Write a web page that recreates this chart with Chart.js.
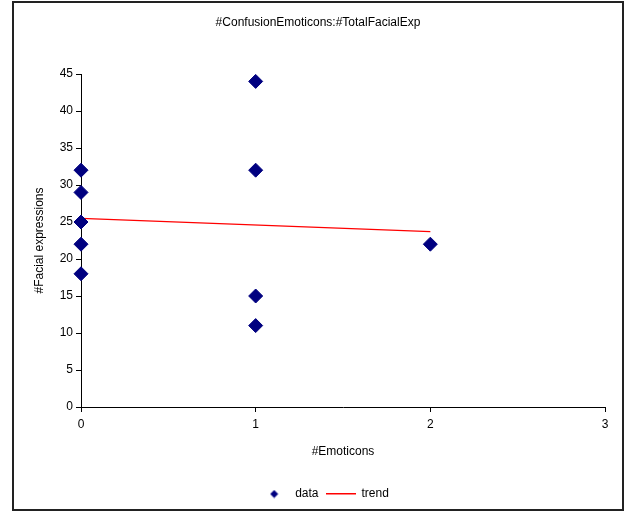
<!DOCTYPE html>
<html>
<head>
<meta charset="utf-8">
<script src="https://cdn.jsdelivr.net/npm/chart.js@4"></script>
<style>
  body { margin: 0; background: #fff; }
  #wrap { position: relative; width: 626px; height: 512px; }
  #frame { position: absolute; left: 12px; top: 1px; width: 612px; height: 510px;
           border: 2px solid #222; box-sizing: border-box; pointer-events: none; }
</style>
</head>
<body>
<div id="wrap">
  <canvas id="chart" width="626" height="512"></canvas>
  <div id="frame"></div>
</div>
<script>
// values
let emoticons = [0, 0, 0, 0, 0, 1, 1, 1, 1, 2];
let facialExp = [32, 29, 25, 22, 18, 44, 32, 15, 11, 22];
let trendX = [0, 2];
let trendY = [25.5, 23.7];

let dataPoints = emoticons.map(function(x, i) { return {x: x, y: facialExp[i]}; });
let trendPoints = trendX.map(function(x, i) { return {x: x, y: trendY[i]}; });

// little pictures for the legend markers
let diamondIcon = document.createElement('canvas');
diamondIcon.width = 9; diamondIcon.height = 9;
let dctx = diamondIcon.getContext('2d');
dctx.fillStyle = '#000080';
dctx.beginPath();
dctx.moveTo(4.5, 0.5); dctx.lineTo(8.5, 4.5); dctx.lineTo(4.5, 8.5); dctx.lineTo(0.5, 4.5);
dctx.closePath();
dctx.fill();

let lineIcon = document.createElement('canvas');
lineIcon.width = 30; lineIcon.height = 2;
let lctx = lineIcon.getContext('2d');
lctx.fillStyle = '#ff0000';
lctx.fillRect(0, 0, 30, 1.5);

// nudge the legend a bit right, like the original
let legendShift = {
    id: 'legendShift',
    afterLayout: function(chart) {
        chart.legend.left += 6;
        chart.legend.right += 6;
    }
};

Chart.defaults.font.family = '"Liberation Sans", Arial, sans-serif';
Chart.defaults.font.size = 12;
Chart.defaults.color = '#000';

let chart = new Chart(document.getElementById('chart'), {
    type: 'scatter',
    data: {
        datasets: [
            {
                label: 'data',
                data: dataPoints,
                clip: false,
                pointStyle: 'rectRot',
                pointRadius: 7,
                pointHoverRadius: 7,
                backgroundColor: '#000080',
                borderColor: '#000080',
                borderWidth: 1
            },
            {
                label: 'trend',
                data: trendPoints,
                showLine: true,
                pointRadius: 0,
                borderColor: '#ff0000',
                borderWidth: 1.2
            }
        ]
    },
    plugins: [legendShift],
    options: {
        responsive: false,
        animation: false,
        layout: {
            padding: {left: 31, right: 21, top: 1, bottom: 2}
        },
        plugins: {
            title: {
                display: true,
                text: '#ConfusionEmoticons:#TotalFacialExp',
                font: {size: 12, weight: 'normal'},
                padding: {top: 14, bottom: 44.6}
            },
            legend: {
                position: 'bottom',
                labels: {
                    usePointStyle: true,
                    pointStyleWidth: 30,
                    padding: 7,
                    generateLabels: function() {
                        return [
                            {text: 'data', pointStyle: diamondIcon, fillStyle: '#000080', strokeStyle: '#000080', lineWidth: 0, datasetIndex: 0},
                            {text: 'trend', pointStyle: lineIcon, fillStyle: '#ff0000', strokeStyle: '#ff0000', lineWidth: 0, datasetIndex: 1}
                        ];
                    }
                }
            },
            tooltip: {enabled: false}
        },
        scales: {
            x: {
                type: 'linear',
                min: 0,
                max: 3,
                ticks: {stepSize: 1, padding: 5},
                grid: {drawOnChartArea: false, tickLength: 5, color: '#000'},
                border: {color: '#000'},
                title: {display: true, text: '#Emoticons', padding: {top: 4, bottom: 22}},
                afterFit: function(scale) { scale.height = 74; }
            },
            y: {
                min: 0,
                max: 45,
                ticks: {stepSize: 5, padding: 3},
                grid: {drawOnChartArea: false, tickLength: 5, color: '#000'},
                border: {color: '#000'},
                title: {display: true, text: '#Facial expressions', padding: {top: 1, bottom: 4}},
                afterFit: function(scale) { scale.width = 50; }
            }
        }
    }
});
</script>
</body>
</html>
